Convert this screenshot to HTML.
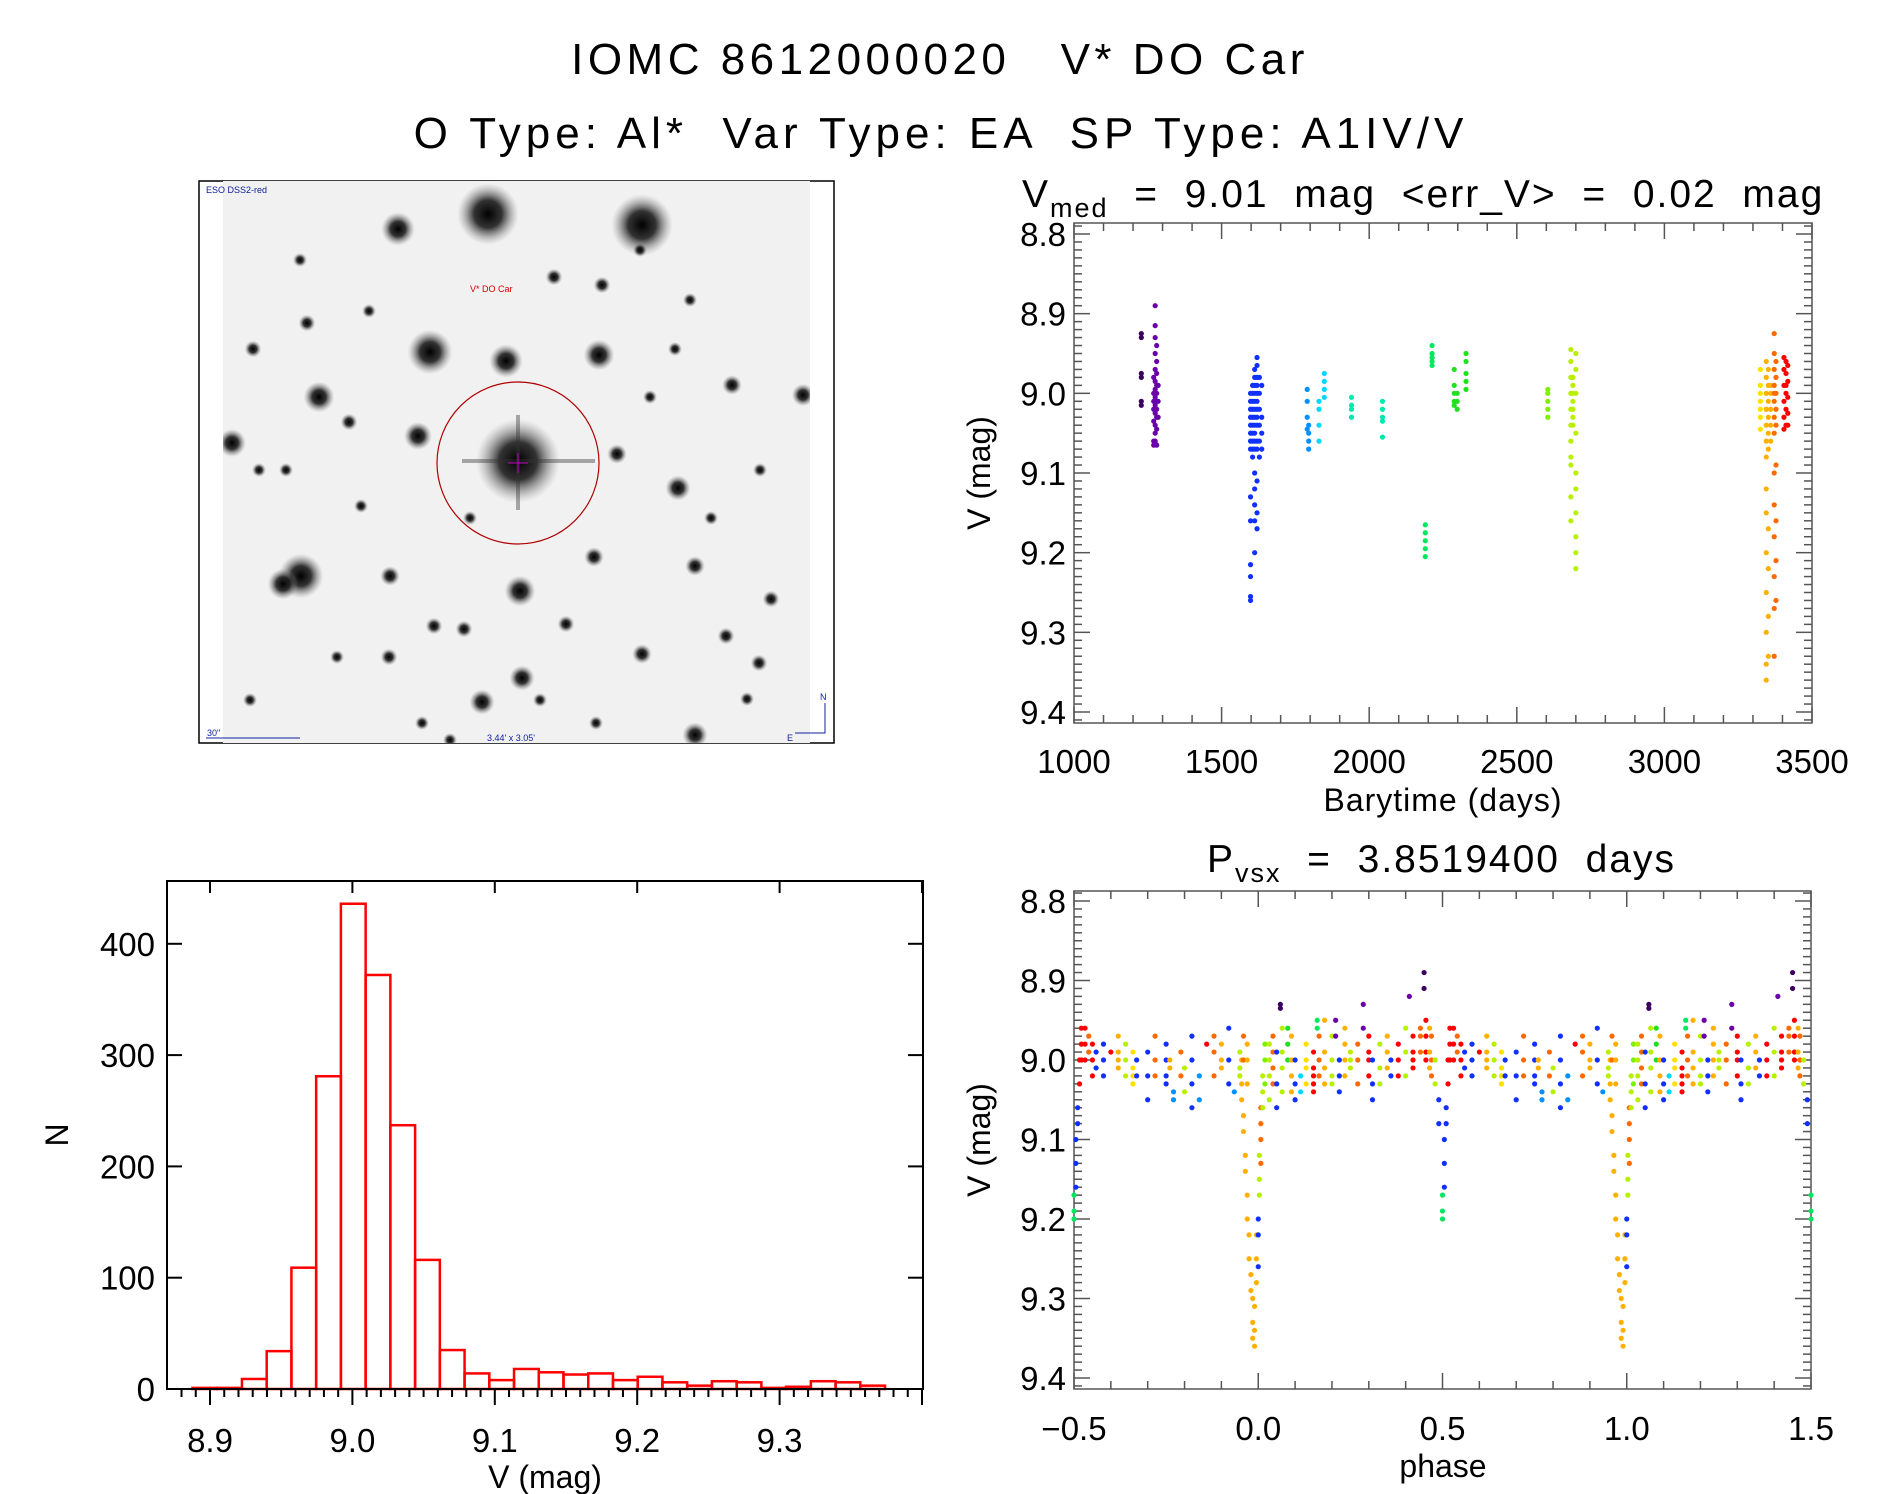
<!DOCTYPE html>
<html><head><meta charset="utf-8"><style>
html,body{margin:0;padding:0;background:#fff;}
svg{display:block;font-family:"Liberation Sans",sans-serif;}
text{white-space:pre;}
</style></head><body>
<svg id="fig" width="1889" height="1494" viewBox="0 0 1889 1494" xmlns="http://www.w3.org/2000/svg">
<defs>
<radialGradient id="star"><stop offset="0" stop-color="#000" stop-opacity="1"/><stop offset="0.45" stop-color="#111" stop-opacity="0.85"/><stop offset="1" stop-color="#888" stop-opacity="0"/></radialGradient>
<clipPath id="imgclip"><rect x="223" y="181" width="587" height="562"/></clipPath>
</defs>
<text x="940" y="74" font-size="44" text-anchor="middle" letter-spacing="4.5">IOMC 8612000020   V* DO Car</text>
<text x="941" y="148" font-size="44" text-anchor="middle" letter-spacing="5">O Type: Al*  Var Type: EA  SP Type: A1IV/V</text>

<g>
<rect x="199" y="181" width="635" height="562" fill="#fff" stroke="#000" stroke-width="1.5"/>
<rect x="223" y="181" width="587" height="562" fill="#f1f1f1"/>
<g id="stars" clip-path="url(#imgclip)"></g>
<line x1="518" y1="415" x2="518" y2="510" stroke="#333" stroke-width="4" opacity="0.4"/>
<line x1="462" y1="461" x2="595" y2="461" stroke="#333" stroke-width="4" opacity="0.4"/>
<circle cx="518" cy="463" r="81" fill="none" stroke="#b00000" stroke-width="1.2"/>
<line x1="508" y1="463" x2="528" y2="463" stroke="#c000c0" stroke-width="1"/>
<line x1="518" y1="453" x2="518" y2="473" stroke="#c000c0" stroke-width="1"/>
<text x="206" y="193" font-size="9" fill="#1020a0">ESO DSS2-red</text>
<text x="470" y="292" font-size="9" fill="#d00000">V* DO Car</text>
<text x="207" y="736" font-size="9" fill="#1020a0">30"</text>
<line x1="206" y1="738" x2="300" y2="738" stroke="#1020a0" stroke-width="1"/>
<text x="487" y="741" font-size="9" fill="#1020a0">3.44' x 3.05'</text>
<text x="820" y="700" font-size="9" fill="#1020a0">N</text>
<text x="787" y="741" font-size="9" fill="#1020a0">E</text>
<polyline points="825,703 825,733 795,733" fill="none" stroke="#1020a0" stroke-width="1"/>
</g>

<g id="tr"></g>
<g id="br"></g>
<g id="hist"></g>

<text x="1022" y="207" font-size="39" letter-spacing="2">V<tspan font-size="27" dy="10">med</tspan><tspan dy="-10">  =  9.01  mag  &lt;err_V&gt;  =  0.02  mag</tspan></text>
<text x="1443" y="811" font-size="32" text-anchor="middle" letter-spacing="1">Barytime (days)</text>
<text transform="translate(990,473) rotate(-90)" font-size="32" text-anchor="middle">V (mag)</text>
<text x="1207" y="872" font-size="39" letter-spacing="2">P<tspan font-size="27" dy="10">vsx</tspan><tspan dy="-10">  =  3.8519400  days</tspan></text>
<text x="1443" y="1477" font-size="32" text-anchor="middle">phase</text>
<text transform="translate(990,1140) rotate(-90)" font-size="32" text-anchor="middle">V (mag)</text>
<text x="545" y="1488" font-size="32" text-anchor="middle">V (mag)</text>
<text transform="translate(68,1135) rotate(-90)" font-size="32" text-anchor="middle">N</text>
</svg>
<script>
// ---------- data ----------
const starX=[488,642,398,430,506,599,319,518,232,803,732,418,617,678,301,283,520,594,695,390,482,522,695,642,434,389,771,726,349,554,602,307,253,464,566,759,369,675,650,711,596,422,337,747,259,361,470,286,540,760,640,690,300,250,450];
const starY=[214,225,229,352,361,355,397,461,443,395,385,436,454,488,576,584,591,557,566,576,702,678,735,654,626,657,599,636,422,277,285,323,349,629,624,663,311,349,397,518,723,723,657,699,470,506,518,470,700,470,250,300,260,700,740];
const starR=[22,22,12,16,12,11,11,30,10,8,7,10,7,9,16,11,11,7,7,7,9,9,9,7,6,6,6,6,6,6,6,6,6,6,6,6,5,5,5,5,5,5,5,5,5,5,5,5,5,5,5,5,5,5,5];

const lcColors=['#3a0060','#6a00a8','#1030ff','#0090ff','#00d8ff','#00e8b0','#00e860','#20e020','#80f000','#b8f000','#ffe000','#ffb000','#ff6a00','#ff0000'];
const lcSegTime=[1228,1270,1275,1280,1285,1598,1605,1612,1620,1628,1636,1790,1795,1830,1848,1940,2045,2190,2213,2288,2298,2328,2605,2683,2690,2700,3325,3345,3352,3360,3372,3378,3405,3412,3418];
const lcSegColor=[0,1,1,1,1,2,2,2,2,2,2,3,3,4,4,5,5,6,6,7,7,7,8,9,9,9,10,11,11,11,12,12,13,13,13];
const lcSegMags=[
[8.925,8.93,8.975,8.98,9.01,9.015],
[8.98,9.0,9.01,9.02,9.035,9.06,9.065],
[8.89,8.915,8.93,8.95,8.97,8.985,8.995,9.0,9.005,9.015,9.025,9.04,9.05,9.06],
[8.94,8.96,8.975,8.99,9.0,9.01,9.02,9.03,9.045,9.065],
[8.99,9.01,9.03],
[9.0,9.01,9.02,9.03,9.04,9.05,9.06,9.07,9.13,9.16,9.215,9.23,9.255,9.26],
[8.99,9.0,9.01,9.02,9.03,9.04,9.05,9.06,9.07,9.08],
[8.97,8.98,8.99,9.0,9.01,9.02,9.03,9.04,9.05,9.06,9.07,9.1,9.12,9.14,9.16,9.2],
[8.955,8.965,8.98,8.99,9.0,9.01,9.02,9.03,9.04,9.06,9.07,9.11,9.15,9.17],
[8.98,9.0,9.02,9.04,9.06,9.08],
[8.99,9.03,9.05,9.07],
[8.995,9.01,9.03,9.045],
[9.04,9.05,9.06,9.07],
[9.01,9.02,9.04,9.06],
[8.975,8.985,8.995,9.005],
[9.005,9.015,9.02,9.03],
[9.01,9.02,9.03,9.035,9.055],
[9.165,9.175,9.185,9.195,9.205],
[8.94,8.95,8.955,8.96,8.965],
[8.97,8.99,9.0,9.01,9.015],
[9.0,9.01,9.02],
[8.95,8.96,8.975,8.985,8.995],
[8.995,9.0,9.01,9.02,9.03],
[8.945,8.96,8.98,9.0,9.02,9.04,9.06,9.08,9.09,9.13,9.16],
[8.98,8.99,9.0,9.01,9.02,9.03,9.04],
[8.95,8.97,9.0,9.05,9.1,9.12,9.15,9.18,9.2,9.22],
[8.97,8.99,9.0,9.01,9.02,9.03,9.045],
[8.96,8.98,9.0,9.02,9.04,9.06,9.08,9.12,9.15,9.2,9.25,9.3,9.34,9.36],
[8.97,8.99,9.01,9.03,9.05,9.07,9.17,9.22,9.28,9.33],
[8.99,9.0,9.02,9.04,9.06],
[8.925,8.95,8.97,8.99,9.0,9.01,9.03,9.05,9.1,9.14,9.18,9.23,9.27,9.33],
[8.96,8.98,9.0,9.02,9.04,9.09,9.16,9.21,9.26],
[8.955,8.97,8.99,9.01,9.03,9.045],
[8.96,8.975,8.99,9.0,9.02,9.04],
[8.965,8.985,9.005,9.025,9.04]
];

const phPhase=[0.955,0.96,0.965,0.97,0.975,0.98,0.985,0.99,0.995,0.0,0.003,0.007,0.012,0.018,0.03,0.04,0.05,0.06,0.065,0.08,0.09,0.1,0.115,0.13,0.15,0.16,0.165,0.18,0.2,0.21,0.22,0.235,0.25,0.27,0.285,0.3,0.31,0.33,0.35,0.36,0.38,0.4,0.41,0.42,0.44,0.45,0.455,0.465,0.47,0.48,0.49,0.5,0.505,0.51,0.515,0.52,0.53,0.54,0.55,0.56,0.58,0.6,0.62,0.64,0.66,0.67,0.7,0.72,0.75,0.76,0.77,0.79,0.8,0.82,0.84,0.86,0.88,0.9,0.92,0.935,0.95,0.96,0.97];
const phColor=[11,11,11,11,11,11,11,11,11,2,9,12,9,8,9,12,2,0,9,7,11,2,4,10,13,6,12,11,9,1,2,11,9,12,1,13,2,9,11,2,13,9,1,13,12,0,13,11,12,9,2,6,2,2,13,13,13,12,13,2,2,13,11,9,10,2,2,12,2,11,3,12,9,2,3,13,12,11,2,3,9,12,11];
const phMags=[
[9.0,9.03,9.05],[9.07,9.09],[9.12,9.14],[9.17,9.2],[9.22,9.25],[9.27,9.29],[9.3,9.33,9.35],[9.36,9.34,9.31],[9.28,9.25,9.22],
[9.2,9.22,9.26],[9.15,9.12,9.17],[9.1,9.08,9.13,9.06],[9.06,9.04,9.02],[9.0,8.98,9.03],
[8.98,9.0,9.02,9.05],[8.97,8.99,9.01,9.03],[8.99,9.03,9.06],[8.93,8.935],[8.96,8.99,9.01,9.04],[8.96,8.98,9.0],[8.97,9.0,9.02,9.04],[9.0,9.03,9.05],[9.02,9.04],[8.98,9.0,9.01,9.03],[8.99,9.01,9.02,9.03,9.04],[8.95,8.96],[8.97,9.0,9.02],[8.95,8.99,9.01,9.03],[8.97,9.0,9.02,9.03],[8.95,8.97],[9.0,9.02,9.04],[8.96,8.98,9.0,9.02],[8.99,9.0,9.01],[8.98,9.0,9.03],[8.93,8.96],[8.97,8.99,9.0,9.02],[9.0,9.03,9.05],[8.98,9.01,9.03],[8.97,8.99,9.01],[9.0,9.02],[8.98,9.0,9.02],[8.96,8.99,9.02],[8.92],[8.97,8.99,9.0,9.01],[8.96,8.97,8.99],[8.89,8.91],[8.95,8.97,8.99,9.0],[8.96,8.99,9.01],[8.97,9.0,9.02],[9.0,9.03],
[9.05,9.08],[9.17,9.19,9.2],[9.1,9.13,9.16],[9.06,9.08],[9.0,9.03],[8.96,8.98,9.0],
[8.96,8.98,9.0],[8.97,8.99],[8.98,9.0,9.02],[8.99,9.01],[8.98,9.0,9.02],[8.99],[8.97,8.99,9.0,9.01],[8.98,9.0,9.02],[8.99,9.01,9.02,9.03],[9.0,9.02],[8.99,9.02,9.05],[8.97,9.0,9.02],[8.98,9.0,9.02,9.03],[9.0,9.01],[9.04,9.05],[8.99,9.02],[9.01,9.04],[8.97,9.0,9.03,9.06],[9.02,9.05],[8.98],[8.97,8.99,9.02],[8.98,9.0,9.01],[8.96,9.0,9.03],[9.04],[8.99,9.01,9.02],[8.97,9.0],[8.98,9.0,9.03]
];

const histEdgeStart=8.8877;
const histBinWidth=0.01737;
const histCounts=[1,1,9,34,109,281,436,372,237,116,35,14,8,18,15,13,14,8,11,6,3,7,6,1,2,7,6,3];
const histXTicks=['8.9','9.0','9.1','9.2','9.3'];
const histYTicks=['0','100','200','300','400'];
const lcXTicks=['1000','1500','2000','2500','3000','3500'];
const magTicks=['8.8','8.9','9.0','9.1','9.2','9.3','9.4'];
const phXTicks=['-0.5','0.0','0.5','1.0','1.5'];

// ---------- helpers ----------
const NS='http://www.w3.org/2000/svg';
function mk(parent,tag,attrs){const e=document.createElementNS(NS,tag);for(const k in attrs)e.setAttribute(k,attrs[k]);parent.appendChild(e);return e;}
function line(p,x1,y1,x2,y2,c,w){return mk(p,'line',{x1:x1,y1:y1,x2:x2,y2:y2,stroke:c,'stroke-width':w});}

const sg=document.getElementById('stars');
for(let i=0;i<starX.length;i++){
  const c=mk(sg,'circle',{cx:starX[i],cy:starY[i],r:starR[i]*1.4,fill:'url(#star)'});
  
  
}

const lcX=t=>1074+(t-1000)/2500*738;
const lcY=v=>234+(v-8.8)/0.6*478;
const phX=p=>1074+(p+0.5)/2*737;
const phY=v=>901+(v-8.8)/0.6*477;
const hX=v=>210+(v-8.9)/0.1*142.4;
const hY=n=>1389-n*1.113;

function magAxis(g,L,R,T,B,yf,col){
  for(let k=-2;k<=62;k++){const v=8.8+k*0.01;const y=yf(v);if(y<T||y>B)continue;const len=(k%10===0)?16:8;line(g,L,y,L+len,y,col,1.5);line(g,R,y,R-len,y,col,1.5);}
  magTicks.forEach(s=>{const t=mk(g,'text',{x:L-8,y:yf(parseFloat(s))+12,'font-size':33,'text-anchor':'end'});t.textContent=s;
    
    });
}

(function(){
  const g=document.getElementById('tr');const L=1074,R=1812,T=223,B=723,col='#555';
  mk(g,'rect',{x:L,y:T,width:R-L,height:B-T,fill:'none',stroke:col,'stroke-width':1.5});
  for(let t=1000;t<=3500;t+=100){const x=lcX(t);const len=(t%500===0)?16:8;line(g,x,B,x,B-len,col,1.5);line(g,x,T,x,T+len,col,1.5);}
  lcXTicks.forEach(s=>{const t=mk(g,'text',{x:lcX(+s),y:773,'font-size':33,'text-anchor':'middle'});t.textContent=s;
    
    });
  magAxis(g,L,R,T,B,lcY,col);
  for(let i=0;i<lcSegTime.length;i++){
    lcSegMags[i].forEach(v=>{const c=mk(g,'circle',{cx:lcX(lcSegTime[i]),cy:lcY(v),r:2.6,fill:lcColors[lcSegColor[i]]});
      
      });
  }
})();

(function(){
  const g=document.getElementById('br');const L=1074,R=1811,T=891,B=1389,col='#555';
  mk(g,'rect',{x:L,y:T,width:R-L,height:B-T,fill:'none',stroke:col,'stroke-width':1.5});
  for(let k=-5;k<=15;k++){const x=phX(k/10);const len=(k%5===0)?16:8;line(g,x,B,x,B-len,col,1.5);line(g,x,T,x,T+len,col,1.5);}
  phXTicks.forEach(s=>{const t=mk(g,'text',{x:phX(parseFloat(s)),y:1440,'font-size':33,'text-anchor':'middle'});t.textContent=s.replace('-','\u2212');
    
    });
  magAxis(g,L,R,T,B,phY,col);
  for(let i=0;i<phPhase.length;i++){
    [-1,0,1].forEach(sh=>{const p=phPhase[i]+sh;if(p<-0.5||p>1.5)return;
      phMags[i].forEach(v=>{const c=mk(g,'circle',{cx:phX(p),cy:phY(v),r:2.6,fill:lcColors[phColor[i]]});
        
        });
    });
  }
})();

(function(){
  const g=document.getElementById('hist');const L=167,R=923,T=881,B=1389;
  for(let i=0;i<histCounts.length;i++){
    const x0=hX(histEdgeStart+i*histBinWidth),x1=hX(histEdgeStart+(i+1)*histBinWidth);
    const r=mk(g,'rect',{x:x0,y:hY(histCounts[i]),width:x1-x0,height:B-hY(histCounts[i]),fill:'none',stroke:'#ff0000','stroke-width':2.5});
    
    
  }
  mk(g,'rect',{x:L,y:T,width:R-L,height:B-T,fill:'none',stroke:'#000','stroke-width':2});
  for(let k=0;k<=52;k++){const v=8.88+k*0.01;const x=hX(v);if(x<L||x>R)continue;const major=Math.abs(Math.round(v*100)%10)===0;line(g,x,B,x,B+(major?16:8),'#000',2);if(major)line(g,x,T,x,T+12,'#000',2);}
  histXTicks.forEach(s=>{const t=mk(g,'text',{x:hX(+s),y:1452,'font-size':33,'text-anchor':'middle'});t.textContent=s;
    
    });
  histYTicks.forEach(s=>{const y=hY(+s);line(g,L,y,L+15,y,'#000',2);line(g,R,y,R-15,y,'#000',2);
    const t=mk(g,'text',{x:155,y:y+12,'font-size':33,'text-anchor':'end'});t.textContent=s;
    
    });
})();
</script>
</body></html>
